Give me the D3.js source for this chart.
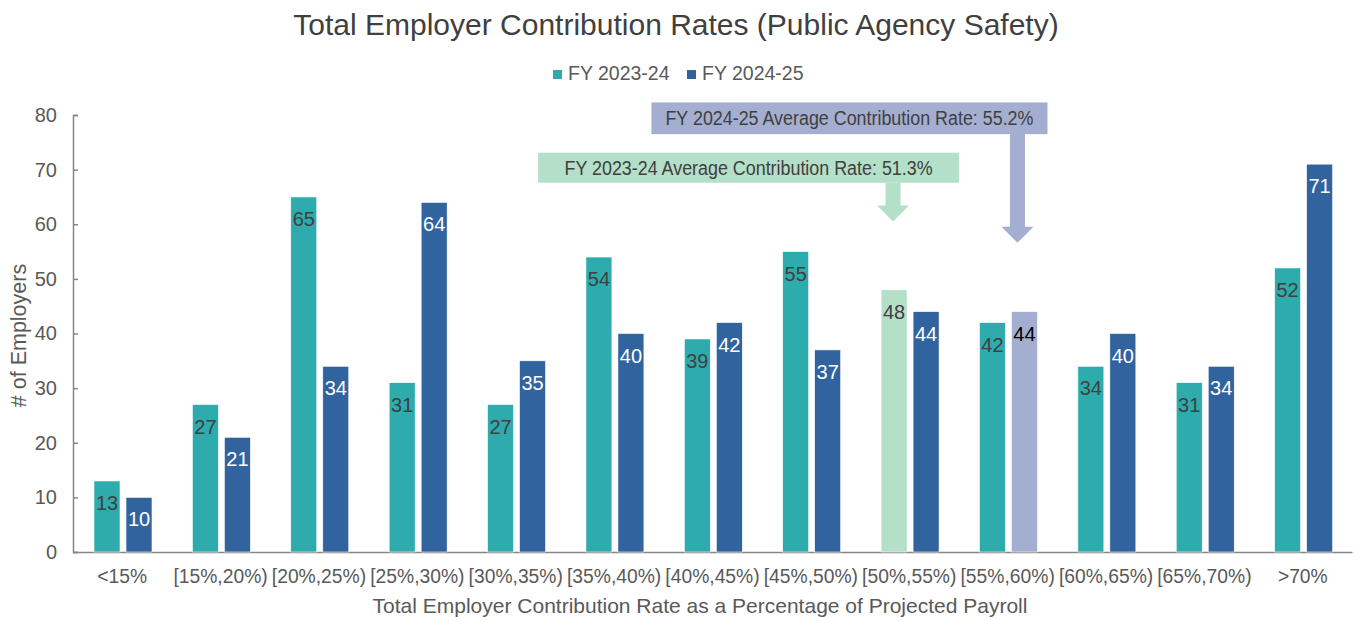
<!DOCTYPE html>
<html>
<head>
<meta charset="utf-8">
<script src="https://cdn.jsdelivr.net/npm/d3@7"></script>
<style>
  body { margin: 0; background: #fff; }
  svg { font-family: Arial, "Liberation Sans", sans-serif; }
</style>
</head>
<body>
<svg width="1356" height="621"></svg>
<script>
var categories = ["<15%", "[15%,20%)", "[20%,25%)", "[25%,30%)", "[30%,35%)", "[35%,40%)", "[40%,45%)",
                  "[45%,50%)", "[50%,55%)", "[55%,60%)", "[60%,65%)", "[65%,70%)", ">70%"];
var seriesNames = ["FY 2023-24", "FY 2024-25"];
var fy2324 = [13, 27, 65, 31, 27, 54, 39, 55, 48, 42, 34, 31, 52];
var fy2425 = [10, 21, 34, 64, 35, 40, 42, 37, 44, 44, 40, 34, 71];
var yTicks = [0, 10, 20, 30, 40, 50, 60, 70, 80];
var avg2324 = 51.3, avg2425 = 55.2;

var colors = {"FY 2023-24": "#2DABAD", "FY 2024-25": "#31649E"};
// bars that hold the average get a pale colour
var highlight = {"FY 2023-24": {cat: "[50%,55%)", fill: "#B4DFC8"}, "FY 2024-25": {cat: "[55%,60%)", fill: "#A4AED0"}};

var svg = d3.select("svg"),
    margin = {top: 115, right: 4, bottom: 69, left: 73},
    width = +svg.attr("width") - margin.left - margin.right,
    height = +svg.attr("height") - margin.top - margin.bottom;

var x0 = d3.scaleBand().domain(categories).range([0, width]),
    x1 = d3.scaleBand().domain(seriesNames).range([21, 79]).paddingInner(0.1875),
    y = d3.scaleLinear().domain([0, 80]).range([height, 0]);

var g = svg.append("g").attr("transform", "translate(" + margin.left + "," + margin.top + ")");

// title + legend
svg.append("text").attr("x", 676).attr("y", 35).attr("text-anchor", "middle")
  .style("font-size", "30px").style("fill", "#404040")
  .text("Total Employer Contribution Rates (Public Agency Safety)");

var legend = svg.append("g").selectAll("g").data(seriesNames).enter().append("g")
  .attr("transform", function(d, i) { return "translate(" + (553 + i * 134) + ",70)"; });
legend.append("rect").attr("width", 9).attr("height", 9).style("fill", function(d) { return colors[d]; });
legend.append("text").attr("x", 15).attr("y", 10).style("font-size", "19.5px").style("fill", "#595959")
  .text(function(d) { return d; });

// axes
var yAxis = g.append("g").call(d3.axisLeft(y).tickValues(yTicks).tickSizeInner(-5).tickSizeOuter(-5).tickPadding(16));
yAxis.select(".domain").attr("stroke", "#868686").attr("stroke-width", 1.5);
yAxis.selectAll(".tick line").attr("stroke", "#868686").attr("stroke-width", 1.5);
yAxis.selectAll("text").style("font-size", "20px").style("fill", "#595959").style("font-family", "Arial, 'Liberation Sans', sans-serif");

var xAxis = g.append("g").attr("transform", "translate(0," + height + ")")
  .call(d3.axisBottom(x0).tickSize(0).tickPadding(17));
xAxis.select(".domain").attr("stroke", "#868686").attr("stroke-width", 1.5);
xAxis.selectAll("text").style("font-size", "19.3px").style("fill", "#595959").style("font-family", "Arial, 'Liberation Sans', sans-serif");

svg.append("text").attr("x", 700).attr("y", 613).attr("text-anchor", "middle")
  .style("font-size", "21px").style("fill", "#595959")
  .text("Total Employer Contribution Rate as a Percentage of Projected Payroll");
svg.append("text").attr("transform", "translate(26," + (margin.top + height / 2 + 2) + ") rotate(-90)")
  .attr("text-anchor", "middle").style("font-size", "21.5px").style("fill", "#595959")
  .text("# of Employers");

// bars
var rows = categories.map(function(c, i) {
  return {cat: c, vals: [{s: seriesNames[0], v: fy2324[i]}, {s: seriesNames[1], v: fy2425[i]}]};
});

function barFill(d, cat) {
  var h = highlight[d.s];
  return (h.cat === cat) ? h.fill : colors[d.s];
}

var grp = g.selectAll(".cat").data(rows).enter().append("g")
  .attr("transform", function(d) { return "translate(" + x0(d.cat) + ",0)"; });

grp.selectAll("rect").data(function(d) { return d.vals.map(function(v) { v.cat = d.cat; return v; }); })
  .enter().append("rect")
  .attr("x", function(d) { return x1(d.s); })
  .attr("y", function(d) { return y(d.v); })
  .attr("width", x1.bandwidth())
  .attr("height", function(d) { return height - y(d.v); })
  .style("fill", function(d) { return barFill(d, d.cat); })
  .style("stroke", "#ffffff").style("stroke-width", 0.6);

grp.selectAll("text").data(function(d) { return d.vals; })
  .enter().append("text")
  .attr("x", function(d) { return x1(d.s) + x1.bandwidth() / 2; })
  .attr("y", function(d) { return y(d.v) + 29; })
  .attr("text-anchor", "middle")
  .style("font-size", "20px")
  .style("fill", function(d) {
    if (highlight[d.s].cat === d.cat) return d.s === seriesNames[1] ? "#000000" : "#404040";
    return d.s === seriesNames[0] ? "#404040" : "#ffffff";
  })
  .text(function(d) { return d.v; });

// average annotations (box + down arrow)
function annotate(label, cat, s, fill, dx, boxL, boxR, boxTop, boxBot, tipY, textLen) {
  var ax = x0(cat) + x1(s) + x1.bandwidth() / 2 + dx;
  var a = g.append("g");
  a.append("rect").attr("x", ax + boxL).attr("y", y(boxTop)).attr("width", boxR - boxL)
    .attr("height", y(boxBot) - y(boxTop)).style("fill", fill);
  var sw = 7.5, hw = 16, headH = 16, y0 = y(boxBot), yt = y(tipY);
  a.append("path").style("fill", fill)
    .attr("d", "M" + (ax - sw) + "," + y0 + "L" + (ax + sw) + "," + y0 + "L" + (ax + sw) + "," + (yt - headH) +
      "L" + (ax + hw) + "," + (yt - headH) + "L" + ax + "," + yt + "L" + (ax - hw) + "," + (yt - headH) +
      "L" + (ax - sw) + "," + (yt - headH) + "Z");
  a.append("text").attr("x", ax + boxL + (boxR - boxL) / 2).attr("y", y((boxTop + boxBot) / 2) + 7)
    .attr("text-anchor", "middle").attr("textLength", textLen).attr("lengthAdjust", "spacingAndGlyphs")
    .style("font-size", "19.5px").style("fill", "#404040").text(label);
}

annotate("FY 2023-24 Average Contribution Rate: " + avg2324 + "%", "[50%,55%)", seriesNames[0], "#B4DFC8",
  -1, -355, 66, 73.1, 67.6, 60.5, 368);
annotate("FY 2024-25 Average Contribution Rate: " + avg2425 + "%", "[55%,60%)", seriesNames[1], "#A4AED0",
  -7, -366, 30, 82.3, 76.5, 56.6, 368);
</script>
</body>
</html>
